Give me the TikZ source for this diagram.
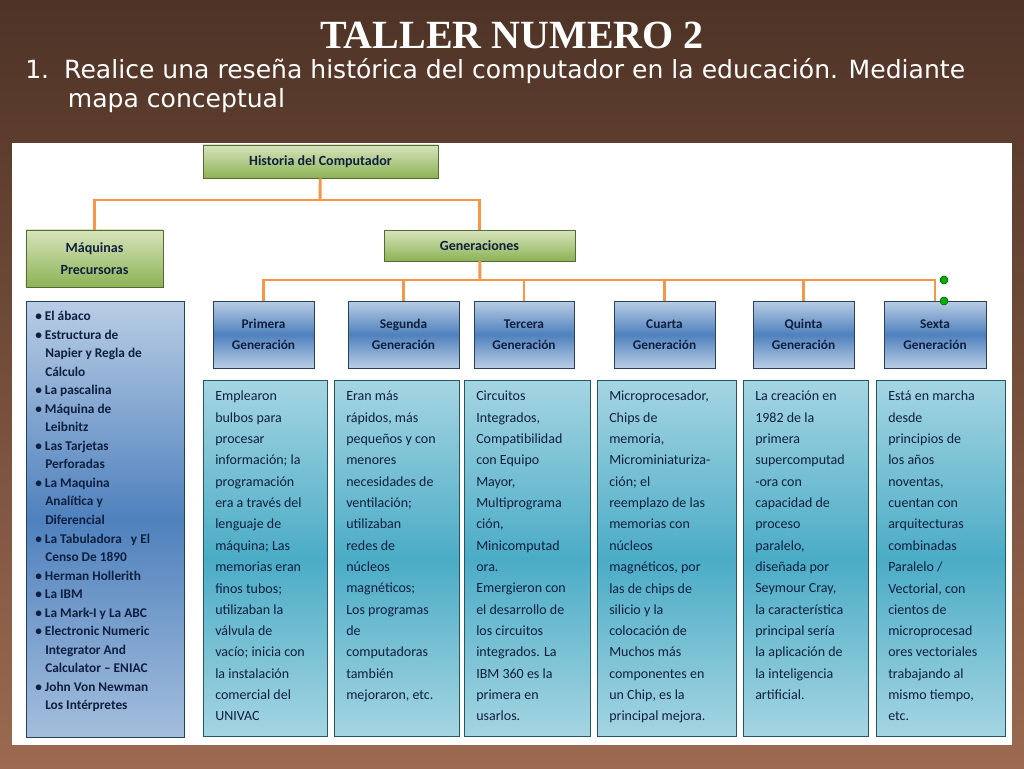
\documentclass[tikz,border=0pt]{standalone}
\usepackage{fontspec}
\setmainfont{Carlito}
\newfontfamily\titlefont{Liberation Serif}
\newfontfamily\instrfont{DejaVu Sans}
\usetikzlibrary{positioning}
\definecolor{brownTop}{HTML}{4E3326}
\definecolor{brownBot}{HTML}{9B6A50}
\definecolor{linkOrange}{HTML}{F79646}
\definecolor{greenTop}{HTML}{D7E4BD}
\definecolor{greenBot}{HTML}{8DB255}
\definecolor{blueTop}{HTML}{B9CDE5}
\definecolor{blueMid}{HTML}{4F81BD}
\definecolor{tealTop}{HTML}{A5D5E2}
\definecolor{tealMid}{HTML}{4BACC6}
\definecolor{inkBlue}{HTML}{0F1F3F}
\begin{document}
\begin{tikzpicture}[x=0.75pt,y=-0.75pt,
  topic/.style={draw=greenBot!60!black,top color=greenTop,bottom color=greenBot,font=\bfseries\fontsize{10.5}{13}\selectfont,text=inkBlue,align=center,inner sep=0pt},
  genbox/.style={draw=blueMid!50!black,top color=blueTop,bottom color=blueTop,middle color=blueMid,font=\bfseries\fontsize{10}{12}\selectfont,text=inkBlue,align=center,inner sep=0pt},
  listbox/.style={draw=blueMid!50!black,top color=blueTop,bottom color=blueTop!80!blueMid,middle color=blueMid,inner sep=0pt},
  descbox/.style={draw=tealMid!50!black,top color=tealTop,bottom color=tealTop,middle color=tealMid,inner sep=0pt},
  desc/.style={anchor=north west,align=left,text=inkBlue,font=\fontsize{10.5}{16}\selectfont,inner sep=0pt},
  link/.style={linkOrange,line width=2.2pt},
  handle/.style={circle,fill=green!70!black,draw=green!30!black,inner sep=0pt,minimum size=6pt}]
% background
\shade[top color=brownTop,bottom color=brownBot] (0,0) rectangle (1024,768);
\fill[white] (12,143) rectangle (1012,745);
\node[font=\titlefont\bfseries\fontsize{30}{34}\selectfont,text=white] (title) at (512,35) {TALLER NUMERO 2};
\node[anchor=north west,align=left,text=white,font=\instrfont\fontsize{18.8}{22}\selectfont,inner sep=0pt] (task) at (25,58)
  {1.\hspace{0.6em}Realice una reseña histórica del computador en la educación. Mediante\\\hspace{1.7em}mapa conceptual};

% upper levels
\node[topic,minimum width=176pt,minimum height=25pt] (hist) at (320.5,161.5) {Historia del Computador};
\node[topic,minimum width=103pt,minimum height=43pt] (maq) at (94.5,258.5) {Máquinas\\[4pt]Precursoras};
\node[topic,minimum width=143pt,minimum height=23pt] (gen) at (479.5,245.5) {Generaciones};
\coordinate (busA) at (320,200);
\coordinate (busB) at (480,280);
\draw[link] (hist) -- (busA);
\draw[link] (busA) -| (maq);
\draw[link] (busA) -| (gen);
\draw[link] (gen) -- (busB);

% generations
\foreach \nm/\cx/\w/\lab in {g1/263.5/101/Primera, g2/403.5/111/Segunda, g3/524/100/Tercera,
    g4/664.5/101/Cuarta, g5/803.5/101/Quinta, g6/935/102/Sexta}{
  \node[genbox,minimum width=\w*0.75pt,minimum height=50pt] (\nm) at (\cx,334.5) {\lab\\[4pt]Generación};
  \draw[link] (busB) -| (\nm);
}
\node[handle] (h1) at (944,280) {};
\node[handle] (h2) at (944,301) {};

% precursor list
\node[listbox,minimum width=118.5pt,minimum height=327pt] (list) at (105,519) {};
\node[anchor=north west,align=left,text=inkBlue,inner sep=0pt,font=\bfseries\fontsize{10}{13.9}\selectfont] (listtxt) at (35,311)
 {\textbullet\ El ábaco\\
  \textbullet\ Estructura de\\\hspace{0.75em}Napier y Regla de\\\hspace{0.75em}Cálculo\\
  \textbullet\ La pascalina\\
  \textbullet\ Máquina de\\\hspace{0.75em}Leibnitz\\
  \textbullet\ Las Tarjetas\\\hspace{0.75em}Perforadas\\
  \textbullet\ La Maquina\\\hspace{0.75em}Analítica y\\\hspace{0.75em}Diferencial\\
  \textbullet\ La Tabuladora\ \ \ y El\\\hspace{0.75em}Censo De 1890\\
  \textbullet\ Herman Hollerith\\
  \textbullet\ La IBM\\
  \textbullet\ La Mark-I y La ABC\\
  \textbullet\ Electronic Numeric\\\hspace{0.75em}Integrator And\\\hspace{0.75em}Calculator -- ENIAC\\
  \textbullet\ John Von Newman\\\hspace{0.75em}Los Intérpretes};

% descriptions
\node[descbox,minimum width=93pt,minimum height=267pt] (d1) at (265,558.5) {};
\node[descbox,minimum width=93.75pt,minimum height=267pt] (d2) at (396.5,558.5) {};
\node[descbox,minimum width=94.5pt,minimum height=267pt] (d3) at (527,558.5) {};
\node[descbox,minimum width=104.25pt,minimum height=267pt] (d4) at (666.5,558.5) {};
\node[descbox,minimum width=93.75pt,minimum height=267pt] (d5) at (805.5,558.5) {};
\node[descbox,minimum width=96.75pt,minimum height=267pt] (d6) at (940.5,558.5) {};
\node[desc] (t1) at (215,391) {Emplearon\\bulbos para\\procesar\\información; la\\programación\\era a través del\\lenguaje de\\máquina; Las\\memorias eran\\finos tubos;\\utilizaban la\\válvula de\\vacío; inicia con\\la instalación\\comercial del\\UNIVAC};
\node[desc] (t2) at (346,391) {Eran más\\rápidos, más\\pequeños y con\\menores\\necesidades de\\ventilación;\\utilizaban\\redes de\\núcleos\\magnéticos;\\Los programas\\de\\computadoras\\también\\mejoraron, etc.};
\node[desc] (t3) at (476,391) {Circuitos\\Integrados,\\Compatibilidad\\con Equipo\\Mayor,\\Multiprograma\\ción,\\Minicomputad\\ora.\\Emergieron con\\el desarrollo de\\los circuitos\\integrados. La\\IBM 360 es la\\primera en\\usarlos.};
\node[desc] (t4) at (609,391) {Microprocesador,\\Chips de\\memoria,\\Microminiaturiza-\\ción; el\\reemplazo de las\\memorias con\\núcleos\\magnéticos, por\\las de chips de\\silicio y la\\colocación de\\Muchos más\\componentes en\\un Chip, es la\\principal mejora.};
\node[desc] (t5) at (755,391) {La creación en\\1982 de la\\primera\\supercomputad\\-ora con\\capacidad de\\proceso\\paralelo,\\diseñada por\\Seymour Cray,\\la característica\\principal sería\\la aplicación de\\la inteligencia\\artificial.};
\node[desc] (t6) at (888,391) {Está en marcha\\desde\\principios de\\los años\\noventas,\\cuentan con\\arquitecturas\\combinadas\\Paralelo /\\Vectorial, con\\cientos de\\microprocesad\\ores vectoriales\\trabajando al\\mismo tiempo,\\etc.};
\end{tikzpicture}
\end{document}
